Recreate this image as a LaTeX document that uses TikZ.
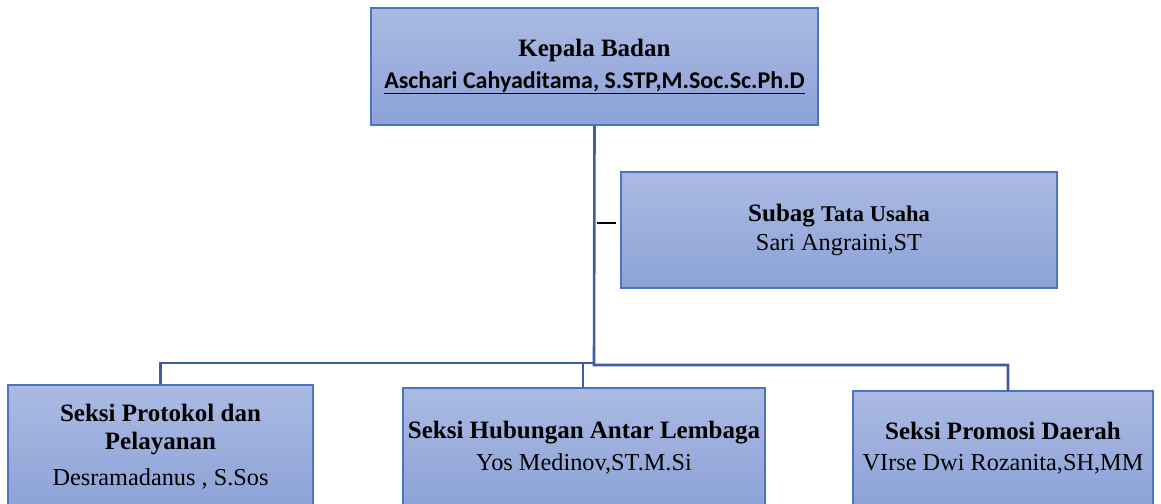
\documentclass[tikz,border=0pt]{standalone}
\usepackage{fontspec}
\setmainfont{Liberation Serif}
\newfontfamily\calfont{Carlito}
\definecolor{boxtop}{HTML}{AABAE2}
\definecolor{boxbot}{HTML}{8CA2D7}
\definecolor{boxline}{HTML}{4A74C2}
\definecolor{conn}{HTML}{3D5DA6}
\newcommand{\regtext}[1]{{\fontsize{24.3}{32}\selectfont #1}}
\tikzset{
  orgbox/.style={draw=boxline, line width=2pt, top color=boxtop, bottom color=boxbot,
    align=center, inner sep=0pt, font=\fontsize{25}{32}\selectfont},
  link/.style={draw=conn, line width=2.6pt},
}
\begin{document}
\begin{tikzpicture}[x=1pt,y=-1pt]
\useasboundingbox (0,0) rectangle (1161,503);
\clip (0,0) rectangle (1161,503);
\node[orgbox, minimum width=447pt, minimum height=117pt] (head) at (594.5,66.5)
  {\textbf{Kepala Badan}\\{\calfont\bfseries\fontsize{24}{32}\selectfont\underline{Aschari Cahyaditama, S.STP,M.Soc.Sc.Ph.D}}};
\node[orgbox, minimum width=436pt, minimum height=116pt] (subag) at (839,230)
  {\textbf{Subag {\fontsize{22.5}{29}\selectfont Tata Usaha}}\\[-3pt]{\fontsize{24.3}{29}\selectfont Sari Angraini,ST}};
\node[orgbox, minimum width=305pt, minimum height=124pt] (prot) at (160.5,447)
  {\textbf{Seksi Protokol dan}\\[-4pt]\textbf{Pelayanan}\\[4pt]\regtext{Desramadanus , S.Sos}};
\node[orgbox, minimum width=362pt, minimum height=120pt] (hub) at (584,448)
  {\textbf{Seksi Hubungan Antar Lembaga}\\\regtext{Yos Medinov,ST.M.Si}};
\node[orgbox, minimum width=300pt, minimum height=115pt] (prom) at (1003,448.5)
  {\textbf{Seksi Promosi Daerah}\\[-1pt]\regtext{VIrse Dwi Rozanita,SH,MM}};
\coordinate (hubjoin) at (594,363);
\coordinate (midjoin) at (583,363);
\coordinate (promtop) at (1008,391);
\coordinate (dashL) at (597,223);
\coordinate (dashR) at (616,223);
\draw[link] (head.south) -- (594,365) -| (promtop);
\draw[link] (hubjoin) -| (prot.north);
\draw[link] (midjoin) -- (midjoin |- hub.north);
\draw[line width=1.2pt] (dashL) -- (dashR);
\end{tikzpicture}
\end{document}
